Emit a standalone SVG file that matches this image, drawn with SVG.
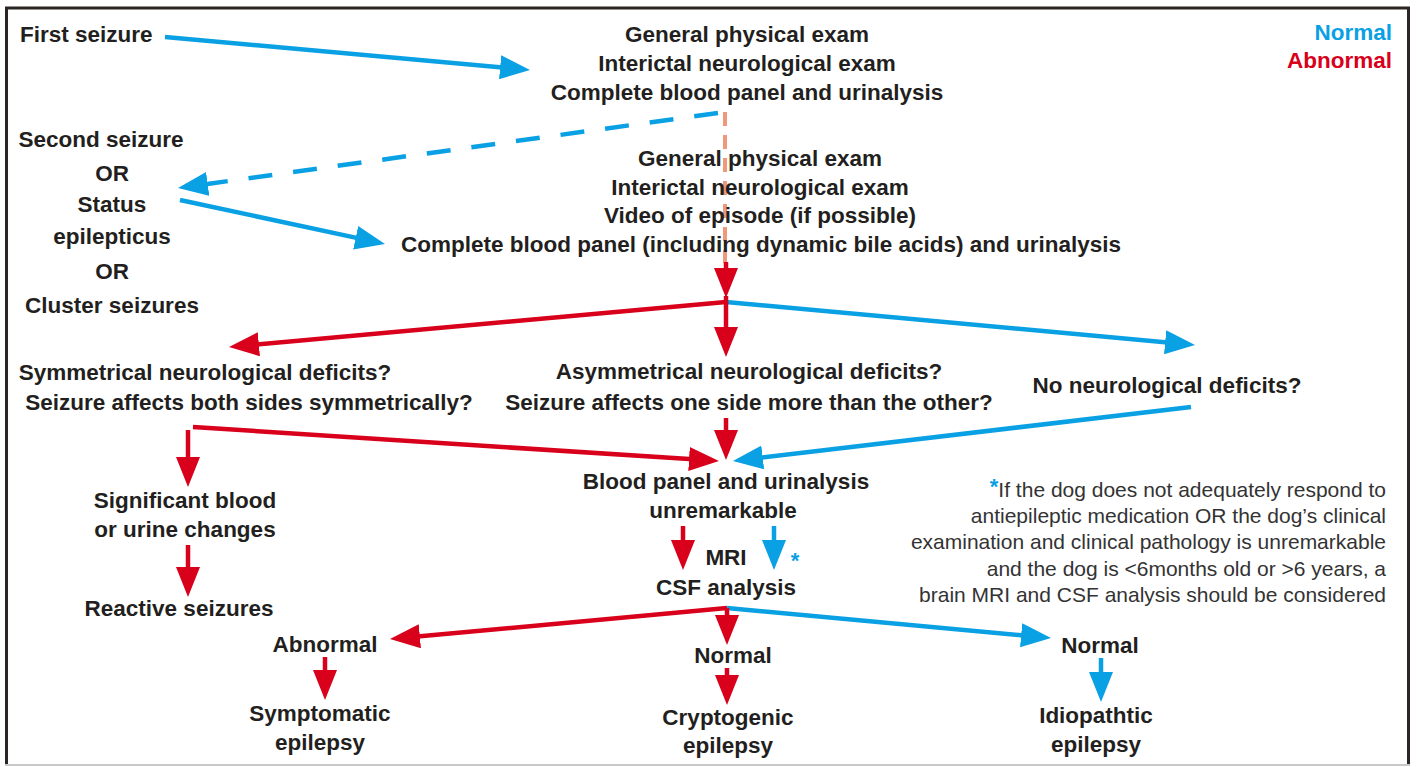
<svg xmlns="http://www.w3.org/2000/svg" width="1416" height="767" viewBox="0 0 1416 767">
<style>
.t{font-family:"Liberation Sans",Arial,sans-serif;font-weight:bold;font-size:22.5px;fill:#231f20;text-anchor:middle}
.fn{font-family:"Liberation Sans",Arial,sans-serif;font-size:21px;fill:#333333;text-anchor:end}
.b{stroke:#0aa0e4;stroke-width:4.5;fill:none}
.r{stroke:#d9001b;stroke-width:4.5;fill:none}
.bm{marker-end:url(#ab)}
.rm{marker-end:url(#ar)}
.star{font-family:"Liberation Sans",Arial,sans-serif;font-weight:bold;font-size:22px;fill:#0aa0e4}
</style>
<defs>
<marker id="ab" markerUnits="userSpaceOnUse" markerWidth="30" markerHeight="24" refX="8" refY="12" orient="auto" viewBox="0 0 30 24"><path d="M0,0 L30,12 L0,24 Z" fill="#0aa0e4"/></marker>
<marker id="ar" markerUnits="userSpaceOnUse" markerWidth="30" markerHeight="24" refX="8" refY="12" orient="auto" viewBox="0 0 30 24"><path d="M0,0 L30,12 L0,24 Z" fill="#d9001b"/></marker>
</defs>
<rect x="0" y="0" width="1416" height="767" fill="#ffffff"/>
<g id="frame">
<line x1="5" y1="8" x2="1410" y2="8" stroke="#2b2523" stroke-width="3"/>
<line x1="6.5" y1="7" x2="6.5" y2="765" stroke="#2b2523" stroke-width="3"/>
<line x1="1408.5" y1="7" x2="1408.5" y2="765" stroke="#2b2523" stroke-width="3"/>
<line x1="5" y1="765" x2="1410" y2="765" stroke="#c8c8c8" stroke-width="2"/>
</g>
<g id="connectors">
<line x1="725" y1="112" x2="725" y2="263" stroke="#f0987a" stroke-width="4" stroke-dasharray="14 9"/>
<line class="b bm" x1="165" y1="37" x2="508.1" y2="68"/>
<line class="b bm" x1="718" y1="113" x2="199.8" y2="185" stroke-dasharray="24 21"/>
<line class="b bm" x1="180" y1="200" x2="363.5" y2="239.4"/>
<line class="b bm" x1="726" y1="302" x2="1173.1" y2="343"/>
<line class="b bm" x1="1191" y1="407" x2="754.8" y2="458.4"/>
<line class="b bm" x1="774" y1="526" x2="774" y2="548"/>
<line class="b bm" x1="727" y1="608" x2="1029.1" y2="636"/>
<line class="b bm" x1="1101" y1="658" x2="1101" y2="680"/>
<line class="r rm" x1="726" y1="262" x2="726" y2="276"/>
<line class="r" x1="726" y1="296" x2="726" y2="304"/>
<line class="r rm" x1="726" y1="302" x2="250.9" y2="345"/>
<line class="r rm" x1="726" y1="302" x2="726" y2="335"/>
<line class="r rm" x1="726" y1="418" x2="726" y2="438"/>
<line class="r rm" x1="193" y1="427" x2="697" y2="459.6"/>
<line class="r rm" x1="188" y1="430" x2="188" y2="465"/>
<line class="r rm" x1="188" y1="545" x2="188" y2="575"/>
<line class="r rm" x1="683" y1="526" x2="683" y2="548"/>
<line class="r rm" x1="727" y1="608" x2="411.9" y2="637"/>
<line class="r rm" x1="727" y1="608" x2="727" y2="623"/>
<line class="r rm" x1="325" y1="657" x2="325" y2="678"/>
<line class="r rm" x1="727" y1="668" x2="727" y2="683"/>
</g>
<g id="legend">
<text class="t" x="1392" y="40" style="text-anchor:end;fill:#0aa0e4">Normal</text>
<text class="t" x="1392" y="68" style="text-anchor:end;fill:#d9001b">Abnormal</text>
</g>
<g id="first-seizure">
<text class="t" x="20" y="42" style="text-anchor:start">First seizure</text>
</g>
<g id="initial-exam">
<text class="t" x="747" y="42">General physical exam</text>
<text class="t" x="747" y="71">Interictal neurological exam</text>
<text class="t" x="747" y="100">Complete blood panel and urinalysis</text>
</g>
<g id="second-seizure">
<text class="t" x="101" y="147">Second seizure</text>
<text class="t" x="112" y="181">OR</text>
<text class="t" x="112" y="212">Status</text>
<text class="t" x="112" y="244">epilepticus</text>
<text class="t" x="112" y="279">OR</text>
<text class="t" x="112" y="313">Cluster seizures</text>
</g>
<g id="full-exam">
<text class="t" x="760" y="166">General physical exam</text>
<text class="t" x="760" y="195">Interictal neurological exam</text>
<text class="t" x="760" y="223">Video of episode (if possible)</text>
<text class="t" x="761" y="252">Complete blood panel (including dynamic bile acids) and urinalysis</text>
</g>
<g id="symmetrical">
<text class="t" x="205" y="380">Symmetrical neurological deficits?</text>
<text class="t" x="249" y="410">Seizure affects both sides symmetrically?</text>
</g>
<g id="asymmetrical">
<text class="t" x="749" y="379">Asymmetrical neurological deficits?</text>
<text class="t" x="749" y="410">Seizure affects one side more than the other?</text>
</g>
<g id="no-deficits">
<text class="t" x="1167" y="393">No neurological deficits?</text>
</g>
<g id="blood-changes">
<text class="t" x="185" y="508">Significant blood</text>
<text class="t" x="185" y="537">or urine changes</text>
</g>
<g id="reactive">
<text class="t" x="179" y="616">Reactive seizures</text>
</g>
<g id="unremarkable">
<text class="t" x="726" y="489">Blood panel and urinalysis</text>
<text class="t" x="723" y="518">unremarkable</text>
</g>
<g id="mri">
<text class="t" x="726" y="565">MRI</text>
<text class="t" x="726" y="595">CSF analysis</text>
<text class="star" x="795" y="568" style="text-anchor:middle">*</text>
</g>
<g id="abnormal">
<text class="t" x="325" y="652">Abnormal</text>
</g>
<g id="normal-mid">
<text class="t" x="733" y="663">Normal</text>
</g>
<g id="normal-right">
<text class="t" x="1100" y="653">Normal</text>
</g>
<g id="symptomatic">
<text class="t" x="320" y="721">Symptomatic</text>
<text class="t" x="320" y="750">epilepsy</text>
</g>
<g id="cryptogenic">
<text class="t" x="728" y="725">Cryptogenic</text>
<text class="t" x="728" y="753">epilepsy</text>
</g>
<g id="idiopathic">
<text class="t" x="1096" y="723">Idiopathtic</text>
<text class="t" x="1096" y="752">epilepsy</text>
</g>
<g id="footnote">
<text class="fn" x="1386" y="497"><tspan class="star" dy="-3">*</tspan><tspan dy="3">If the dog does not adequately respond to</tspan></text>
<text class="fn" x="1386" y="523">antiepileptic medication OR the dog’s clinical</text>
<text class="fn" x="1386" y="549">examination and clinical pathology is unremarkable</text>
<text class="fn" x="1386" y="576">and the dog is &lt;6months old or &gt;6 years, a</text>
<text class="fn" x="1386" y="602">brain MRI and CSF analysis should be considered</text>
</g>
</svg>
